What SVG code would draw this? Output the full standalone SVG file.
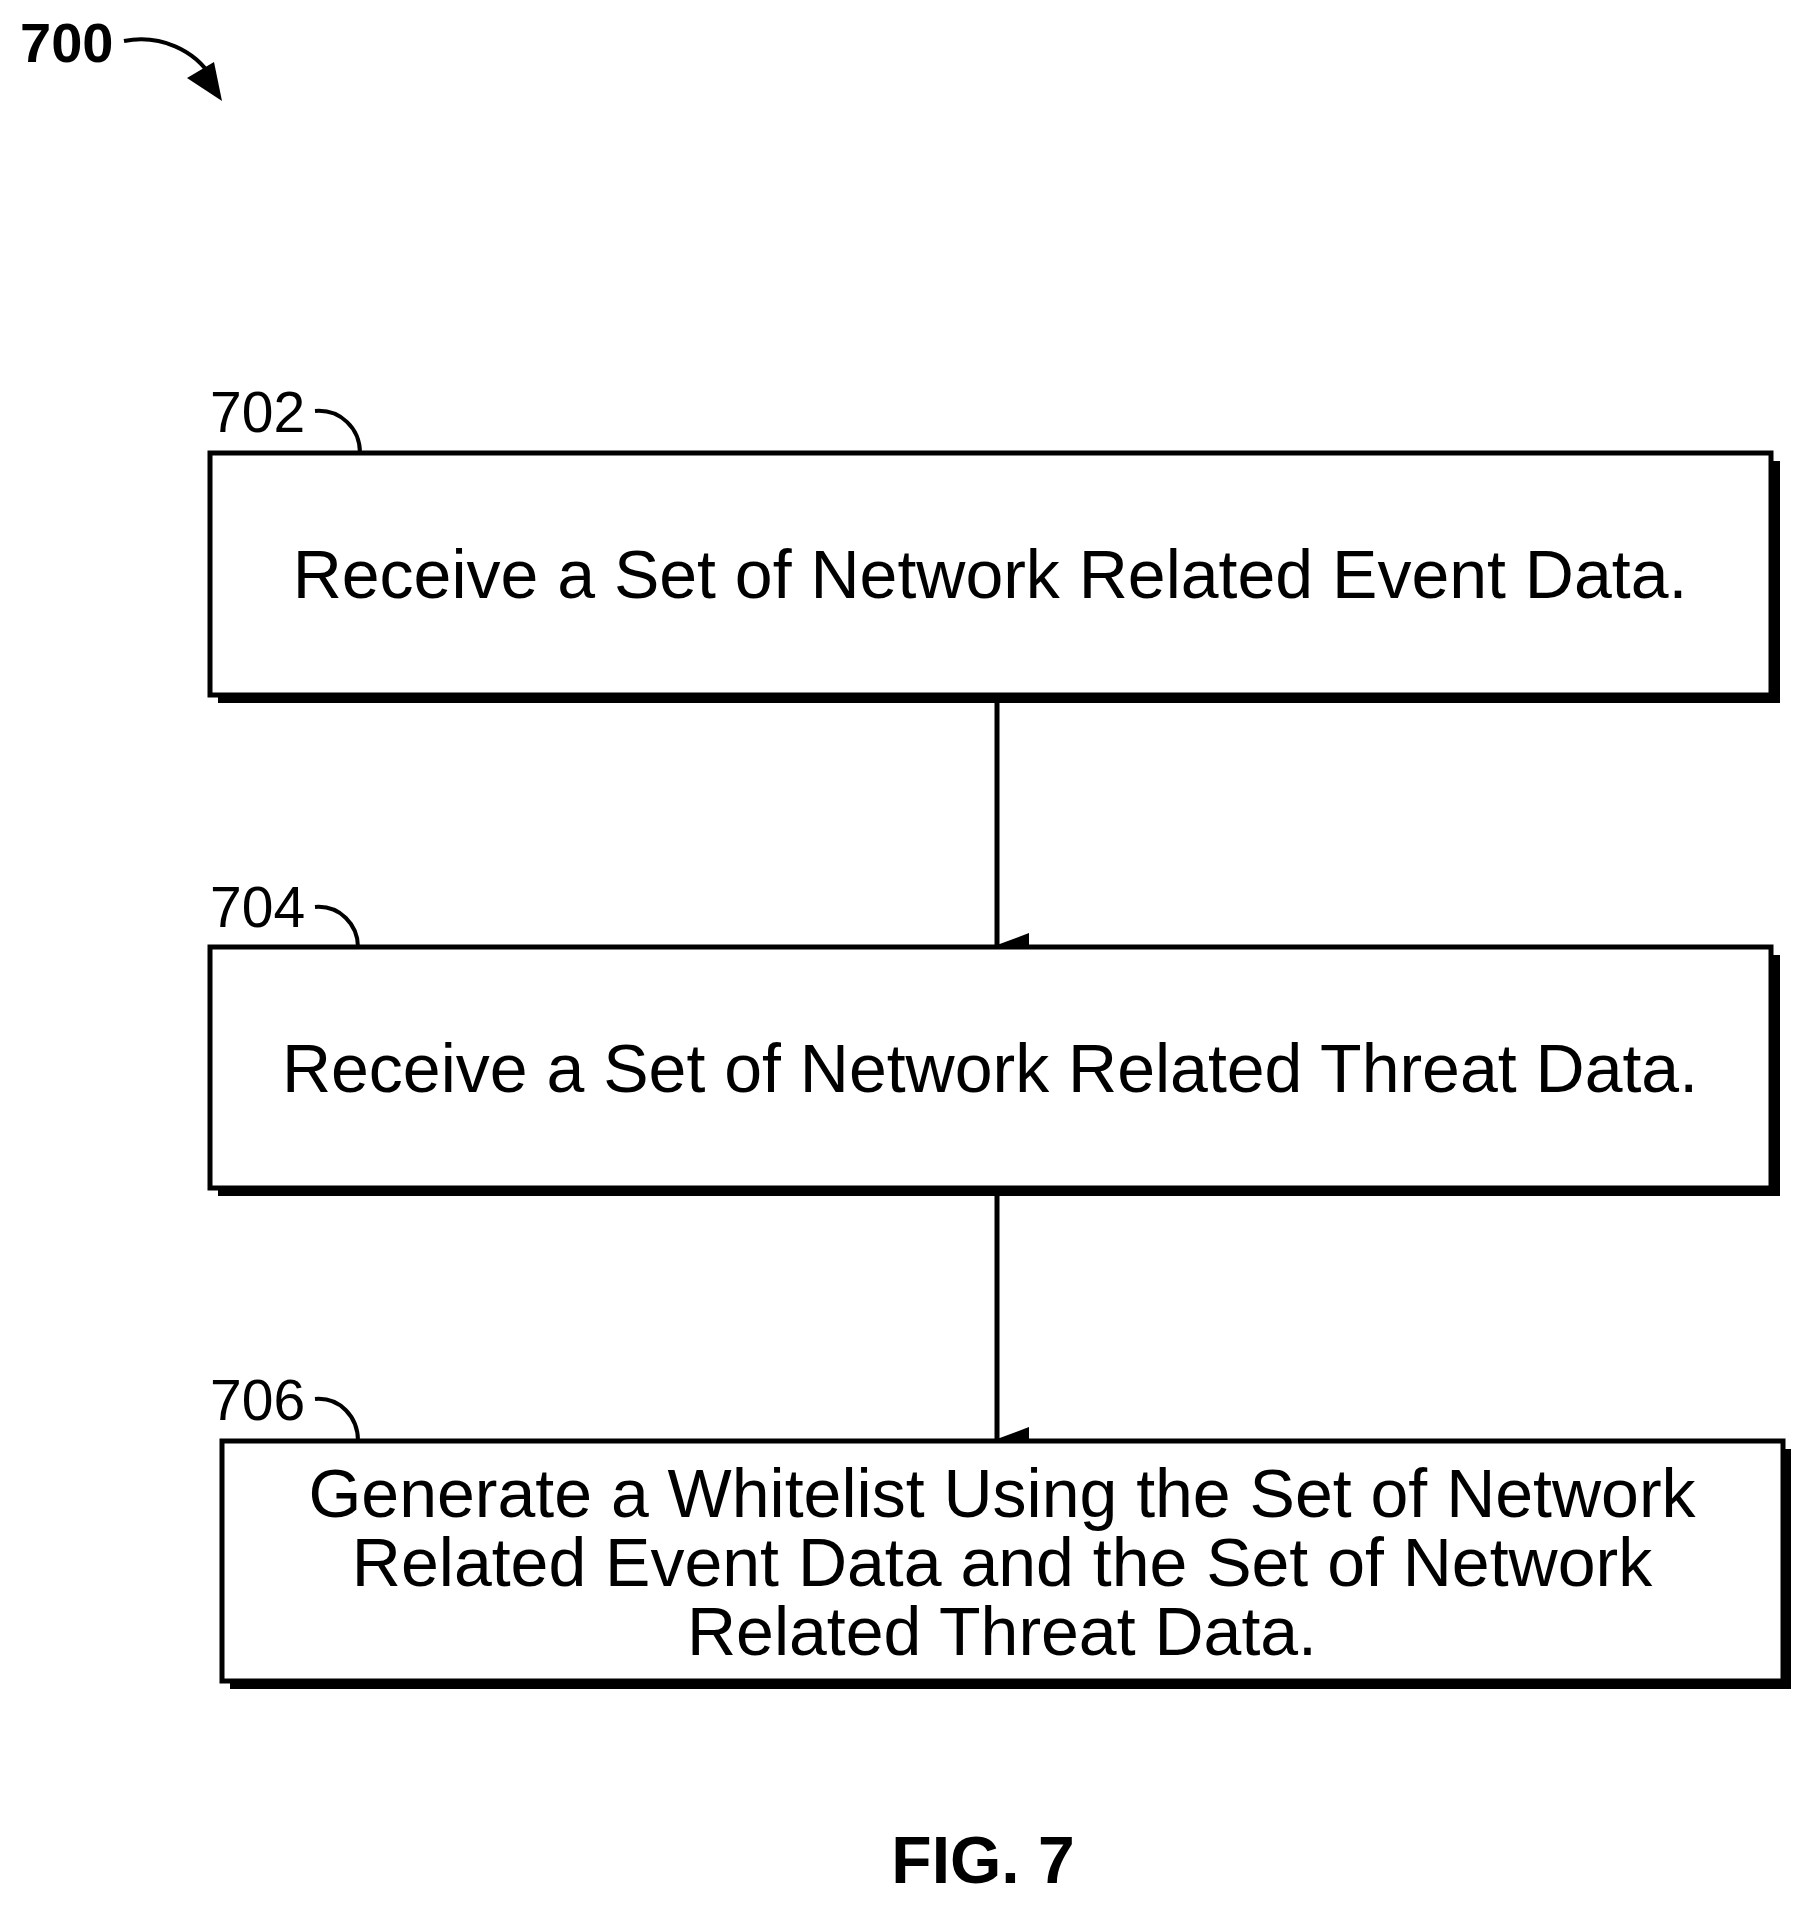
<svg xmlns="http://www.w3.org/2000/svg" width="1813" height="1906" viewBox="0 0 1813 1906">
<style>
.box{fill:#fff;stroke:#000;stroke-width:5}
.sh{fill:#000}
.t{font-family:"Liberation Sans",Arial,sans-serif;font-size:68px;fill:#000;text-anchor:middle}
.ref{font-family:"Liberation Sans",Arial,sans-serif;font-size:57px;fill:#000}
.lead{fill:none;stroke:#000;stroke-width:4}
.con{stroke:#000;stroke-width:5;fill:none}
</style>
<defs>
<marker id="ah" markerWidth="24" markerHeight="32" refX="12" refY="32" orient="auto" markerUnits="userSpaceOnUse" viewBox="0 0 24 32">
<path d="M0,0 L24,0 L12,32 Z" fill="#000"/>
</marker>
</defs>
<rect width="1813" height="1906" fill="#fff"/>
<g id="title">
<text x="20" y="62" font-family="Liberation Sans,Arial,sans-serif" font-weight="bold" font-size="56">700</text>
<path d="M124,41 C160,34 195,50 212,78" class="lead" stroke-width="6"/>
<path d="M187,78 L222,101 L214,62 Z" fill="#000"/>
</g>
<g id="connectors">
<line x1="997" y1="700" x2="997" y2="945" class="con" marker-end="url(#ah)"/>
<line x1="997" y1="1193" x2="997" y2="1439" class="con" marker-end="url(#ah)"/>
</g>
<g id="n702">
<rect x="218" y="461" width="1562" height="242" class="sh"/>
<rect x="210" y="453" width="1561" height="242" class="box"/>
<text x="990" y="598" class="t">Receive a Set of Network Related Event Data.</text>
<text x="210" y="432" class="ref">702</text>
<path d="M315,411 C340,409 360,428 360,453" class="lead"/>
</g>
<g id="n704">
<rect x="218" y="955" width="1562" height="241" class="sh"/>
<rect x="210" y="947" width="1561" height="241" class="box"/>
<text x="990" y="1092" class="t">Receive a Set of Network Related Threat Data.</text>
<text x="210" y="927" class="ref">704</text>
<path d="M315,907 C340,905 358,925 358,947" class="lead"/>
</g>
<g id="n706">
<rect x="230" y="1449" width="1561" height="240" class="sh"/>
<rect x="222" y="1441" width="1561" height="240" class="box"/>
<text x="1002" y="1517" class="t">Generate a Whitelist Using the Set of Network</text>
<text x="1002" y="1586" class="t">Related Event Data and the Set of Network</text>
<text x="1002" y="1655" class="t">Related Threat Data.</text>
<text x="210" y="1420" class="ref">706</text>
<path d="M315,1399 C340,1397 358,1417 358,1441" class="lead"/>
</g>
<text x="983" y="1883" text-anchor="middle" font-family="Liberation Sans,Arial,sans-serif" font-weight="bold" font-size="66">FIG. 7</text>
</svg>
